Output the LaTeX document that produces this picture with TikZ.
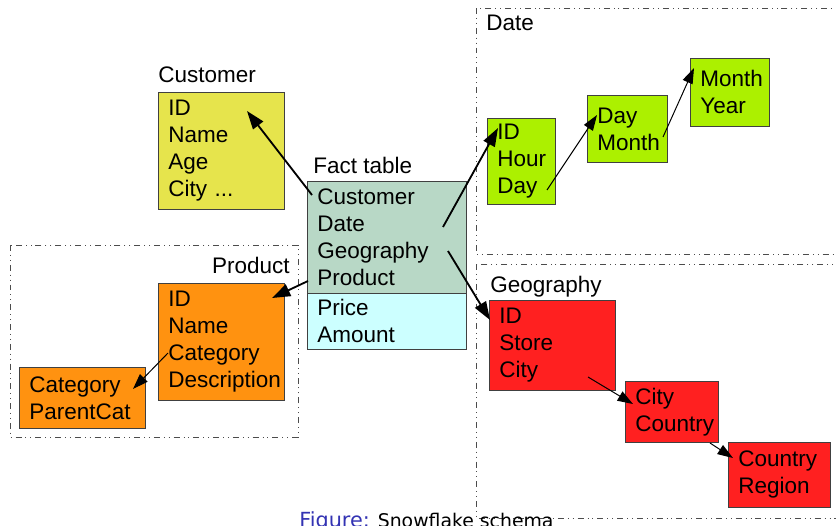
\documentclass[tikz,border=0pt]{standalone}
\usepackage{fontspec}
\setmainfont{Liberation Sans}
\newfontfamily\capfont{DejaVu Sans}
\usetikzlibrary{arrows.meta}
\definecolor{custyellow}{RGB}{230,228,76}
\definecolor{factgreen}{RGB}{184,216,198}
\definecolor{factcyan}{RGB}{204,255,255}
\definecolor{prodorange}{RGB}{255,146,16}
\definecolor{dategreen}{RGB}{172,240,0}
\definecolor{geored}{RGB}{255,32,32}
\definecolor{figblue}{RGB}{51,51,179}
\tikzset{
  tbl/.style 2 args={draw=black!75, line width=0.6pt, anchor=north west, align=left,
    inner xsep=0.25cm, inner ysep=0pt, text width=#1, minimum height=#2,
    font=\fontsize{16}{19.2}\selectfont},
  title/.style={anchor=base west, inner sep=0pt, font=\fontsize{16}{19.2}\selectfont},
  frame/.style={draw=black!70, line width=0.6pt,
    dash pattern=on 4.25pt off 2.8pt on 0.7pt off 2.8pt on 0.7pt off 2.8pt},
  link/.style={-{Triangle[length=13pt,width=9pt]}, line width=1.3pt},
  sublink/.style={-{Triangle[length=11pt,width=7.5pt]}, line width=0.7pt}
}
\begin{document}
\begin{tikzpicture}[x=0.025cm,y=-0.025cm]
\useasboundingbox (0,0) rectangle (836,526);
\clip (0,0) rectangle (836,526);

% frames
\draw[frame] (10,245) rectangle (298,437);
\draw[frame] (476,8) rectangle (850,254);
\draw[frame] (476,264) rectangle (850,518);

% titles
\node[title] (custtitle) at (158,82) {Customer};
\node[title] (facttitle) at (313,173) {Fact table};
\node[title, anchor=base east] (prodtitle) at (290,273) {Product};
\node[title] (datetitle) at (486,30) {Date};
\node[title] (geotitle) at (490,292) {Geography};

% tables
\node[tbl={2.65cm}{2.925cm}, fill=custyellow] (cust) at (158,92) {ID\\Name\\Age\\City ...};
\node[tbl={3.475cm}{2.8cm}, fill=factgreen] (fact) at (307,181) {Customer\\Date\\Geography\\Product};
\node[tbl={3.475cm}{1.4cm}, fill=factcyan] (measure) at (307,293) {Price\\Amount};
\node[tbl={2.65cm}{2.925cm}, fill=prodorange] (prod) at (158,283) {ID\\Name\\Category\\Description};
\node[tbl={2.65cm}{1.525cm}, fill=prodorange] (cat) at (19,367) {Category\\ParentCat};
\node[tbl={1.2cm}{2.15cm}, fill=dategreen] (hour) at (487,118) {ID\\Hour\\Day};
\node[tbl={1.5cm}{1.675cm}, fill=dategreen] (day) at (587,95) {Day\\Month};
\node[tbl={1.475cm}{1.7cm}, fill=dategreen] (month) at (690,58) {Month\\Year};
\node[tbl={2.65cm}{2.25cm}, fill=geored] (store) at (489,300) {ID\\Store\\City};
\node[tbl={1.825cm}{1.525cm}, fill=geored] (city) at (625,381) {City\\Country};
\node[tbl={2.05cm}{1.625cm}, fill=geored] (country) at (728,442) {Country\\Region};

% arrow ends
\coordinate (fcust) at (312,195);
\coordinate (tcust) at (247,111);
\coordinate (fprod) at (308,281);
\coordinate (tprod) at (272,298);
\coordinate (fdate) at (443,227);
\coordinate (tdate) at (498,128);
\coordinate (fgeo) at (448,251);
\coordinate (tgeo) at (490,320);
\coordinate (fcat) at (168,353);
\coordinate (tcat) at (133,389);
\coordinate (fday) at (547,190);
\coordinate (tday) at (597,115);
\coordinate (fmonth) at (663,137);
\coordinate (tmonth) at (694,68);
\coordinate (fcity) at (588,377);
\coordinate (tcity) at (633,404);
\coordinate (fcountry) at (710,443);
\coordinate (tcountry) at (733,458);

\draw[link] (fcust) -- (tcust);
\draw[link] (fprod) -- (tprod);
\draw[link] (fdate) -- (tdate);
\draw[link] (fgeo) -- (tgeo);
\draw[sublink] (fcat) -- (tcat);
\draw[sublink] (fday) -- (tday);
\draw[sublink] (fmonth) -- (tmonth);
\draw[sublink] (fcity) -- (tcity);
\draw[sublink] (fcountry) -- (tcountry);

% caption
\node[anchor=base west, inner sep=0pt, font=\capfont\fontsize{13.4}{16}\selectfont] (caption) at (299,527)
  {\textcolor{figblue}{\fontsize{14.8}{16}\selectfont Figure:} Snowflake schema};
\end{tikzpicture}
\end{document}
